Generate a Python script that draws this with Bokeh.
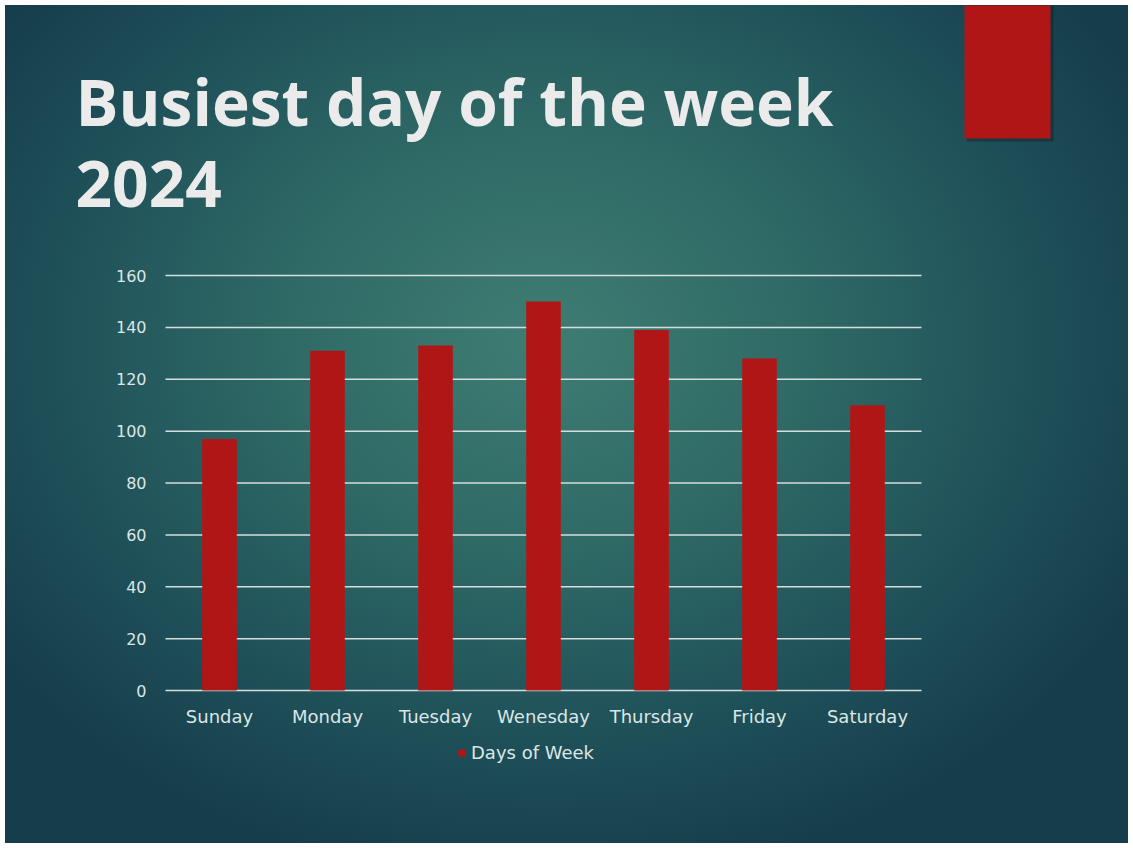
from bokeh.plotting import figure
from bokeh.models import (ColumnDataSource, Range1d, FixedTicker, Label, BoxAnnotation,
                          Legend, LegendItem, LinearAxis)
from bokeh.embed import file_html
from bokeh.resources import INLINE

# ---- data ----
days = ["Sunday", "Monday", "Tuesday", "Wenesday", "Thursday", "Friday", "Saturday"]
counts = [97, 131, 133, 150, 139, 128, 110]
series_name = "Days of Week"
y_ticks = [0, 20, 40, 60, 80, 100, 120, 140, 160]
title_lines = ["Busiest day of the week", "2024"]

BAR = "#b01616"
TXT = "#dce6e6"
GRID = "#d5dedd"

# ---- layout (page pixels) ----
PAGE_L, PAGE_T = 5, 5
W, H = 1123, 838
CH_L, CH_R, CH_T, CH_B = 165, 921, 275, 690      # chart area on the page
Y_MAX = y_ticks[-1]
n = len(days)
px_x = (CH_R - CH_L) / n
px_y = (CH_B - CH_T) / Y_MAX
x0 = -0.5 - (CH_L - PAGE_L) / px_x
x1 = n - 0.5 + (PAGE_L + W - CH_R) / px_x
y1 = Y_MAX + (CH_T - PAGE_T) / px_y
y0 = -(PAGE_T + H - CH_B) / px_y

p = figure(width=W, height=H, x_range=Range1d(x0, x1), y_range=Range1d(y0, y1),
           output_backend="svg", toolbar_location=None, x_axis_location=None,
           y_axis_location=None, min_border=0)
p.margin = (PAGE_T, 0, 0, PAGE_L)
p.styles = {"background-image":
            "radial-gradient(ellipse 60% 65% at 48% 40%, #3f7d73 0%, #2f6a66 38%, #1f5159 72%, #163d4c 100%)"}
p.background_fill_alpha = 0
p.border_fill_alpha = 0
p.outline_line_alpha = 0
p.grid.visible = False

xs = list(range(n))

# gridlines at the y ticks, spanning the category area
p.segment(x0=[-0.5] * len(y_ticks), x1=[n - 0.5] * len(y_ticks), y0=y_ticks, y1=y_ticks,
          line_color=GRID, line_width=1.5)

src = ColumnDataSource(dict(x=xs, day=days, count=counts))
r = p.vbar(x="x", top="count", width=0.32, bottom=0, source=src,
           fill_color=BAR, line_color=None)

# axes
yax = LinearAxis(fixed_location=-0.5, ticker=FixedTicker(ticks=y_ticks))
yax.axis_line_alpha = 0
yax.major_tick_line_alpha = 0
yax.minor_tick_line_alpha = 0
yax.major_label_standoff = 13
yax.major_label_text_font = "DejaVu Sans"
yax.major_label_text_font_size = "16px"
yax.major_label_text_color = TXT
p.add_layout(yax, "left")

xax = LinearAxis(fixed_location=0, ticker=FixedTicker(ticks=xs),
                 major_label_overrides={i: d for i, d in zip(xs, days)})
xax.axis_line_alpha = 0
xax.major_tick_line_alpha = 0
xax.minor_tick_line_alpha = 0
xax.major_label_standoff = 9
xax.major_label_text_font = "DejaVu Sans"
xax.major_label_text_font_size = "18px"
xax.major_label_text_color = TXT
p.add_layout(xax, "below")

# legend
legend = Legend(items=[LegendItem(label=series_name, renderers=[r])],
                location=(457 - PAGE_L, PAGE_T + H - 763), orientation="horizontal",
                glyph_width=9, glyph_height=9, label_standoff=5,
                label_text_font="DejaVu Sans", label_text_font_size="18px",
                label_text_color=TXT, label_height=18,
                padding=0, margin=0, background_fill_alpha=0, border_line_alpha=0)
p.add_layout(legend, "center")

# title
for txt, base in zip(title_lines, [101, 183]):
    p.add_layout(Label(x=75 - PAGE_L, y=PAGE_T + H - base, x_units="screen", y_units="screen",
                       text=txt, text_font="Open Sans", text_font_style="bold",
                       text_font_size="64px", text_color="#ebebeb", text_baseline="alphabetic"))

# decorative red block with shadow
def box(l, r_, b, t, color, alpha):
    return BoxAnnotation(left=l - PAGE_L, right=r_ - PAGE_L,
                         bottom=PAGE_T + H - b, top=PAGE_T + H - t + 10,
                         left_units="screen", right_units="screen",
                         bottom_units="screen", top_units="screen",
                         fill_color=color, fill_alpha=alpha, line_alpha=0)

p.add_layout(box(966, 1053, 141, 0, "#0a222b", 0.45))
p.add_layout(box(964, 1050, 138, 0, "#b01616", 1.0))

open("out.html", "w").write(file_html(p, INLINE))
